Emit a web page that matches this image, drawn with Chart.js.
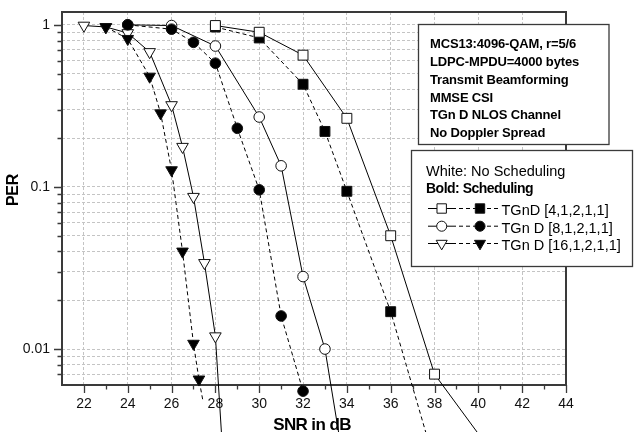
<!DOCTYPE html>
<html>
<head>
<meta charset="utf-8">
<script src="https://cdn.jsdelivr.net/npm/chart.js@4.4.1/dist/chart.umd.min.js"></script>
<style>
  html, body { margin: 0; padding: 0; background: #fff; }
  #wrap { position: relative; width: 634px; height: 432px; }
</style>
</head>
<body>
<div id="wrap"><canvas id="perChart" width="634" height="432"></canvas></div>
<script>
// PER vs SNR (open = no scheduling, filled = scheduling)
const sq4OpenX = [28, 30, 32, 34, 36, 38, 40];
const sq4OpenY = [0.99, 0.90, 0.65, 0.265, 0.05, 0.007, 0.003];
const sq4FillX = [28, 30, 32, 33, 34, 36, 38];
const sq4FillY = [0.97, 0.83, 0.43, 0.22, 0.094, 0.017, 0.002];
const c8OpenX = [24, 26, 28, 30, 31, 32, 33, 34];
const c8OpenY = [1.0, 0.99, 0.74, 0.27, 0.135, 0.028, 0.01, 0.0015];
const c8FillX = [24, 26, 27, 28, 29, 30, 31, 32];
const c8FillY = [1.0, 0.94, 0.78, 0.58, 0.23, 0.096, 0.016, 0.0055];
const t16OpenX = [22, 23, 24, 25, 26, 26.5, 27, 27.5, 28, 28.5];
const t16OpenY = [0.99, 0.97, 0.89, 0.68, 0.32, 0.177, 0.087, 0.034, 0.012, 0.001];
const t16FillX = [23, 24, 25, 25.5, 26, 26.5, 27, 27.25, 27.43];
const t16FillY = [0.97, 0.82, 0.48, 0.285, 0.127, 0.040, 0.0108, 0.0065, 0.0048];

const xMajor = [22, 24, 26, 28, 30, 32, 34, 36, 38, 40, 42, 44];
const xTickLabels = ['22', '24', '26', '28', '30', '32', '34', '36', '38', '40', '42', '44'];
const xMinor = [23, 25, 27, 29, 31, 33, 35, 37, 39, 41, 43];
const yMajor = [0.01, 0.1, 1];
const yTickLabels = ['0.01', '0.1', '1'];
const yMinorMant = [2, 3, 4, 5, 6, 7, 8, 9];

const infoLines = ['MCS13:4096-QAM, r=5/6', 'LDPC-MPDU=4000 bytes', 'Transmit Beamforming',
                   'MMSE CSI', 'TGn D NLOS Channel', 'No Doppler Spread'];
const legendHead = ['White: No Scheduling', 'Bold: Scheduling'];
const legendNames = ['TGnD [4,1,2,1,1]', 'TGn D [8,1,2,1,1]', 'TGn D [16,1,2,1,1]'];

const FONT = '"Liberation Sans", Arial, sans-serif';
const GRID = '#c4c4c4';
const FRAME = '#3a3a3a';

// grid / tick positions on y: 0.007 .. 1
let yGridValues = [0.007, 0.008, 0.009];
[0.01, 0.1].forEach(d => {
    yGridValues.push(d);
    yMinorMant.forEach(m => yGridValues.push(+(m * d).toFixed(4)));
});
yGridValues.push(1);

const markers = {
    rect: { pointStyle: 'rect', pointRadius: 7, pointRotation: 0 },
    circle: { pointStyle: 'circle', pointRadius: 5.3, pointRotation: 0 },
    triangle: { pointStyle: 'triangle', pointRadius: 6.7, pointRotation: 180 }
};

function series(xs, ys, shape, filled, hideLast) {
    const m = markers[shape];
    return {
        data: xs.map((x, i) => ({ x: x, y: ys[i] })),
        borderColor: '#000',
        borderWidth: 1,
        borderDash: filled ? [4, 3] : [],
        pointStyle: m.pointStyle,
        pointRotation: m.pointRotation,
        pointRadius: xs.map((x, i) => (hideLast && i === xs.length - 1) ? 0 : m.pointRadius),
        pointBackgroundColor: filled ? '#000' : '#fff',
        pointBorderColor: '#111',
        pointBorderWidth: 1,
        tension: 0,
        clip: false
    };
}

function isMajorY(v) {
    return yMajor.some(m => Math.abs(v - m) / m < 1e-6);
}

// the scales reserve room for half a label at each end; the layout padding handles that here
function noScalePad(s) {
    s.paddingTop = 0; s.paddingBottom = 0; s.paddingLeft = 0; s.paddingRight = 0;
}

const decorPlugin = {
    id: 'decor',
    beforeDatasetsDraw(chart) {
        const { ctx, chartArea: a, scales: { x, y } } = chart;
        ctx.save();
        ctx.strokeStyle = FRAME;
        ctx.lineWidth = 1.3;
        ctx.beginPath();
        xMajor.forEach(v => {
            const px = Math.round(x.getPixelForValue(v)) + 0.5;
            ctx.moveTo(px, a.bottom); ctx.lineTo(px, a.bottom + 8);
        });
        xMinor.forEach(v => {
            const px = Math.round(x.getPixelForValue(v)) + 0.5;
            ctx.moveTo(px, a.bottom); ctx.lineTo(px, a.bottom + 4.5);
        });
        yGridValues.forEach(v => {
            const py = Math.round(y.getPixelForValue(v)) + 0.5;
            const len = isMajorY(v) ? 8 : 4.5;
            ctx.moveTo(a.left, py); ctx.lineTo(a.left - len, py);
        });
        ctx.stroke();
        ctx.lineWidth = 2;
        ctx.strokeRect(a.left, a.top, a.right - a.left, a.bottom - a.top);

        // axis titles
        ctx.fillStyle = '#000';
        ctx.font = 'bold 17px ' + FONT;
        ctx.letterSpacing = '-0.6px';
        ctx.textAlign = 'center';
        ctx.textBaseline = 'alphabetic';
        ctx.fillText('SNR in dB', 312, 430);
        ctx.save();
        ctx.translate(18, 190);
        ctx.rotate(-Math.PI / 2);
        ctx.font = 'bold 16px ' + FONT;
        ctx.letterSpacing = '-0.3px';
        ctx.fillText('PER', 0, 0);
        ctx.restore();
        ctx.restore();
    },
    afterDatasetsDraw(chart) {
        const ctx = chart.ctx;
        ctx.save();
        // info box
        ctx.fillStyle = '#fff';
        ctx.strokeStyle = FRAME;
        ctx.lineWidth = 1.3;
        ctx.fillRect(418.5, 24.5, 190.5, 120);
        ctx.strokeRect(418.5, 24.5, 190.5, 120);
        ctx.fillStyle = '#000';
        ctx.font = 'bold 13px ' + FONT;
        ctx.letterSpacing = '-0.15px';
        ctx.textAlign = 'left';
        ctx.textBaseline = 'alphabetic';
        const infoBase = [48, 66, 83.5, 101.5, 119, 136.5];
        infoLines.forEach((t, i) => ctx.fillText(t, 430, infoBase[i]));

        // legend box
        ctx.fillStyle = '#fff';
        ctx.fillRect(411.5, 150.5, 221, 116);
        ctx.strokeRect(411.5, 150.5, 221, 116);
        ctx.fillStyle = '#000';
        ctx.font = '14.5px ' + FONT;
        ctx.letterSpacing = '0px';
        ctx.fillText(legendHead[0], 426, 176);
        ctx.font = 'bold 14px ' + FONT;
        ctx.letterSpacing = '-0.5px';
        ctx.fillText(legendHead[1], 426, 193);

        const shapes = ['rect', 'circle', 'triangle'];
        const rowBase = [215, 232.7, 250];
        ctx.font = '14.5px ' + FONT;
        ctx.letterSpacing = '0px';
        shapes.forEach((s, i) => {
            const cy = rowBase[i] - 6.5;
            ctx.strokeStyle = '#000';
            ctx.lineWidth = 1;
            ctx.setLineDash([]);
            ctx.beginPath(); ctx.moveTo(428, cy); ctx.lineTo(456, cy); ctx.stroke();
            ctx.setLineDash([4, 3]);
            ctx.beginPath(); ctx.moveTo(459, cy); ctx.lineTo(498, cy); ctx.stroke();
            ctx.setLineDash([]);
            const m = markers[s];
            const opts = { pointStyle: m.pointStyle, radius: m.pointRadius * 0.95, rotation: m.pointRotation, borderWidth: 1 };
            ctx.strokeStyle = '#111';
            ctx.fillStyle = '#fff';
            Chart.helpers.drawPoint(ctx, opts, 441.7, cy);
            ctx.fillStyle = '#000';
            Chart.helpers.drawPoint(ctx, opts, 480, cy);
            ctx.fillStyle = '#000';
            ctx.fillText(legendNames[i], 501.5, rowBase[i]);
        });
        ctx.restore();
    }
};

const ctx = document.getElementById('perChart').getContext('2d');
new Chart(ctx, {
    type: 'line',
    data: {
        // first dataset is drawn on top
        datasets: [
            series(t16FillX, t16FillY, 'triangle', true, true),
            series(c8FillX, c8FillY, 'circle', true, false),
            series(sq4OpenX, sq4OpenY, 'rect', false, false),
            series(sq4FillX, sq4FillY, 'rect', true, false),
            series(t16OpenX, t16OpenY, 'triangle', false, false),
            series(c8OpenX, c8OpenY, 'circle', false, false)
        ]
    },
    options: {
        responsive: false,
        animation: false,
        devicePixelRatio: 1,
        events: [],
        layout: { padding: { left: 0, top: 12, right: 68, bottom: 0 } },
        plugins: { legend: { display: false }, tooltip: { enabled: false } },
        scales: {
            x: {
                type: 'linear',
                min: 21,
                max: 44,
                afterBuildTicks: s => { s.ticks = xMajor.map(v => ({ value: v })); },
                afterFit: s => { s.height = 47; noScalePad(s); },
                grid: { color: GRID, lineWidth: 1, drawTicks: false },
                border: { display: false, dash: [3, 2] },
                ticks: {
                    autoSkip: false,
                    maxRotation: 0,
                    padding: 11,
                    color: '#111',
                    font: { family: FONT, size: 14 },
                    callback: v => xTickLabels[xMajor.indexOf(v)] || ''
                }
            },
            y: {
                type: 'logarithmic',
                min: 0.006,
                max: 1.2,
                afterBuildTicks: s => { s.ticks = yGridValues.map(v => ({ value: v })); },
                afterFit: s => { s.width = 62; noScalePad(s); },
                grid: { color: GRID, lineWidth: 1, drawTicks: false },
                border: { display: false, dash: [3, 2] },
                ticks: {
                    autoSkip: false,
                    padding: 12,
                    color: '#111',
                    font: { family: FONT, size: 14 },
                    callback: v => {
                        const k = yMajor.findIndex(m => Math.abs(v - m) / m < 1e-6);
                        return k >= 0 ? yTickLabels[k] : '';
                    }
                }
            }
        }
    },
    plugins: [decorPlugin]
});
</script>
</body>
</html>
